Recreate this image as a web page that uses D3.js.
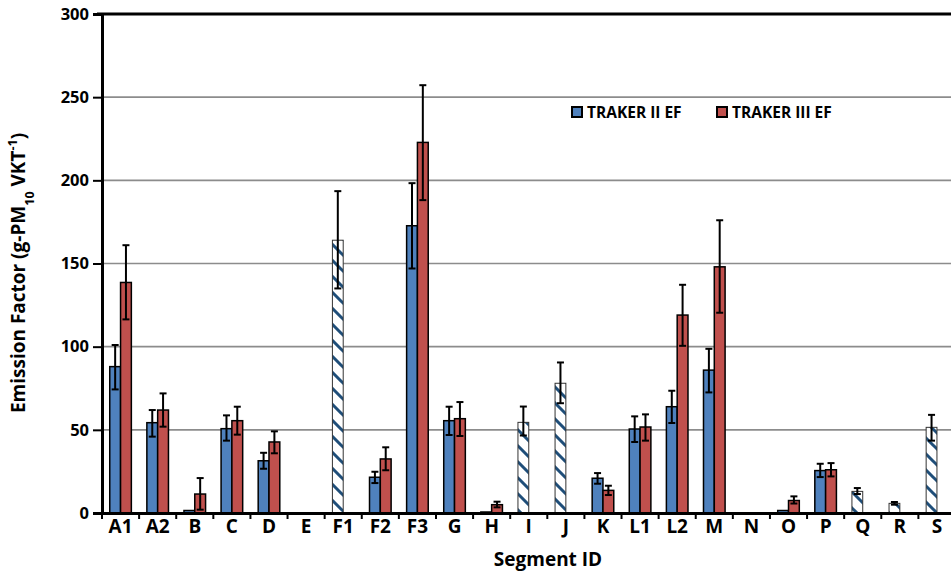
<!DOCTYPE html>
<html>
<head>
<meta charset="utf-8">
<script src="https://cdn.jsdelivr.net/npm/d3@7"></script>
<style>
    body { margin: 0; background: white; }
    #chart text { font-family: "Open Sans", sans-serif; font-weight: bold; fill: black; }
</style>
</head>
<body>
<div id="chart"></div>
<script>
// Segment IDs along the x axis
const categories = ["A1", "A2", "B", "C", "D", "E", "F1", "F2", "F3", "G", "H", "I", "J", "K", "L1", "L2", "M", "N", "O", "P", "Q", "R", "S"];

// TRAKER II EF (blue) with error bar ends
const traker2   = [88, 54.3, 1.5, 50.7, 31.4, null, null, 21.5, 172.7, 55.5, 0.6, null, null, 20.9, 50.5, 63.9, 85.9, null, 1.5, 25.5, null, null, null];
const traker2Lo = [74.3, 45.9, null, 43.5, 26.6, null, null, 18, 147, 46.9, null, null, null, 17.6, 42.7, 54.1, 72.5, null, null, 21.6, null, null, null];
const traker2Hi = [101, 61.9, null, 58.7, 36.2, null, null, 24.8, 198.3, 63.9, null, null, null, 24, 58.1, 73.5, 98.7, null, null, 29.6, null, null, null];

// TRAKER III EF (red) with error bar ends
const traker3   = [138.6, 61.9, 11.4, 55.5, 42.7, null, null, 32.5, 222.8, 56.7, 5, null, null, 13.6, 51.7, 119, 148, null, 7.5, 26, null, null, null];
const traker3Lo = [116.4, 51.9, 2, 47.1, 35.9, null, null, 25.7, 188.1, 46.3, 3.4, null, null, 10.8, 43.5, 100.5, 120.4, null, 5.7, 22, null, null, null];
const traker3Hi = [161, 71.9, 21, 63.9, 49.1, null, null, 39.5, 257.2, 66.7, 6.8, null, null, 16.4, 59.3, 137.2, 176, null, 10, 30, null, null, null];

// hatched single bars (segments with only one measurement)
const hatched   = [null, null, null, null, null, null, 164, null, null, null, null, 54.5, 78, null, null, null, null, null, null, null, 13, 5.8, 51.5];
const hatchedLo = [null, null, null, null, null, null, 135, null, null, null, null, 46.6, 66, null, null, null, null, null, null, null, 11.4, 5, 43.5];
const hatchedHi = [null, null, null, null, null, null, 193.5, null, null, null, null, 64, 90.5, null, null, null, null, null, null, null, 15, 6.6, 59];

const yTicks = [0, 50, 100, 150, 200, 250, 300];
const seriesNames = ["TRAKER II EF", "TRAKER III EF"];
const seriesColors = ["#4F81BD", "#C0504D"];

function drawChart() {
    const div_id = "#chart";
    let win_width = 951;
    let win_height = 575;

    let margin = {top: 14, right: -4.5, bottom: 62, left: 102};
    let width = win_width - margin.left - margin.right;
    let height = win_height - margin.top - margin.bottom;

    let svg = d3.select(div_id)
        .append("svg")
        .attr("width", win_width)
        .attr("height", win_height);

    // stripe pattern for the hatched bars
    let pat = svg.append("defs").append("pattern")
        .attr("id", "hatch")
        .attr("patternUnits", "userSpaceOnUse")
        .attr("width", 16)
        .attr("height", 16);
    pat.append("rect").attr("width", 16).attr("height", 16).attr("fill", "white");
    pat.append("path")
        .attr("d", "M-4,-4 L20,20 M-4,12 L4,20 M12,-4 L20,4")
        .attr("stroke", "#1F4E79")
        .attr("stroke-width", 3);

    let g = svg.append("g")
        .attr("transform", "translate(" + margin.left + "," + margin.top + ")");

    let x = d3.scaleBand()
        .domain(categories)
        .range([0, width])
        .padding(0);

    let y = d3.scaleLinear()
        .domain([0, 300])
        .range([height, 0]);

    let barW = 10.8;
    let groupW = barW * 2;
    let inner = d3.scaleBand()
        .domain([0, 1])
        .range([(x.bandwidth() - groupW) / 2, (x.bandwidth() + groupW) / 2]);

    // gridlines
    g.append("g")
        .selectAll("line")
        .data(yTicks.filter(d => d > 0 && d < 300))
        .enter()
        .append("line")
        .attr("x1", 0)
        .attr("x2", width)
        .attr("y1", d => y(d))
        .attr("y2", d => y(d))
        .attr("stroke", "#8C8C8C")
        .attr("stroke-width", 1.6);

    // top border
    g.append("line")
        .attr("x1", -5).attr("x2", width)
        .attr("y1", 0).attr("y2", 0)
        .attr("stroke", "black").attr("stroke-width", 3);

    let series = [
        {vals: traker2, lo: traker2Lo, hi: traker2Hi, pos: 0, fill: seriesColors[0], stroke: "black", sw: 1.5},
        {vals: traker3, lo: traker3Lo, hi: traker3Hi, pos: 1, fill: seriesColors[1], stroke: "black", sw: 1.5},
        {vals: hatched, lo: hatchedLo, hi: hatchedHi, pos: 0, fill: "url(#hatch)", stroke: "#333", sw: 1}
    ];

    series.forEach(function (s) {
        let rows = categories.map(function (c, i) {
            return {cat: c, v: s.vals[i], lo: s.lo[i], hi: s.hi[i]};
        }).filter(d => d.v != null);

        g.append("g")
            .selectAll("rect")
            .data(rows)
            .enter()
            .append("rect")
            .attr("x", d => x(d.cat) + inner(s.pos))
            .attr("y", d => y(d.v))
            .attr("width", inner.bandwidth())
            .attr("height", d => y(0) - y(d.v))
            .attr("fill", s.fill)
            .attr("stroke", s.stroke)
            .attr("stroke-width", s.sw);

        // error bars
        let eb = g.append("g")
            .selectAll("g")
            .data(rows.filter(d => d.lo != null))
            .enter()
            .append("g")
            .attr("transform", d => "translate(" + (x(d.cat) + inner(s.pos) + inner.bandwidth() / 2) + ",0)");
        eb.append("line")
            .attr("y1", d => y(d.lo)).attr("y2", d => y(d.hi))
            .attr("stroke", "black").attr("stroke-width", 2);
        eb.append("line")
            .attr("x1", -3.5).attr("x2", 3.5)
            .attr("y1", d => y(d.lo)).attr("y2", d => y(d.lo))
            .attr("stroke", "black").attr("stroke-width", 2);
        eb.append("line")
            .attr("x1", -3.5).attr("x2", 3.5)
            .attr("y1", d => y(d.hi)).attr("y2", d => y(d.hi))
            .attr("stroke", "black").attr("stroke-width", 2);
    });

    // y axis
    let yAxis = g.append("g")
        .call(d3.axisLeft(y).tickValues(yTicks).tickSize(9).tickPadding(4));
    yAxis.select(".domain").attr("stroke-width", 3);
    yAxis.selectAll(".tick line").attr("stroke-width", 2);
    yAxis.selectAll("text").style("font-size", "16.5px");

    // x axis
    let xAxis = g.append("g")
        .attr("transform", "translate(0," + height + ")")
        .call(d3.axisBottom(x).tickSize(0).tickPadding(6));
    xAxis.select(".domain").attr("stroke-width", 3);
    xAxis.selectAll("text").style("font-size", "19px");
    xAxis.append("g")
        .selectAll("line")
        .data(categories)
        .enter()
        .append("line")
        .attr("x1", d => x(d)).attr("x2", d => x(d))
        .attr("y1", 0).attr("y2", 6)
        .attr("stroke", "black").attr("stroke-width", 2);

    // axis titles
    svg.append("text")
        .attr("x", 548)
        .attr("y", 566)
        .attr("text-anchor", "middle")
        .style("font-size", "19px")
        .text("Segment ID");

    let yt = svg.append("text")
        .attr("transform", "translate(25,273) rotate(-90)")
        .attr("text-anchor", "middle")
        .style("font-size", "19px");
    yt.append("tspan").text("Emission Factor (g-PM");
    yt.append("tspan").attr("baseline-shift", "sub").style("font-size", "12.5px").text("10");
    yt.append("tspan").text(" VKT");
    yt.append("tspan").attr("baseline-shift", "super").style("font-size", "12.5px").text("-1");
    yt.append("tspan").text(")");

    // legend
    let legend = svg.append("g")
        .selectAll("g")
        .data(seriesNames)
        .enter()
        .append("g")
        .attr("transform", (d, i) => "translate(" + (572 + i * 145) + ",107)");
    legend.append("rect")
        .attr("width", 10).attr("height", 10)
        .attr("fill", (d, i) => seriesColors[i])
        .attr("stroke", "black").attr("stroke-width", 2);
    legend.append("text")
        .attr("x", 15)
        .attr("y", 11)
        .style("font-size", "15.5px")
        .text(d => d);
}
drawChart();
</script>
</body>
</html>
